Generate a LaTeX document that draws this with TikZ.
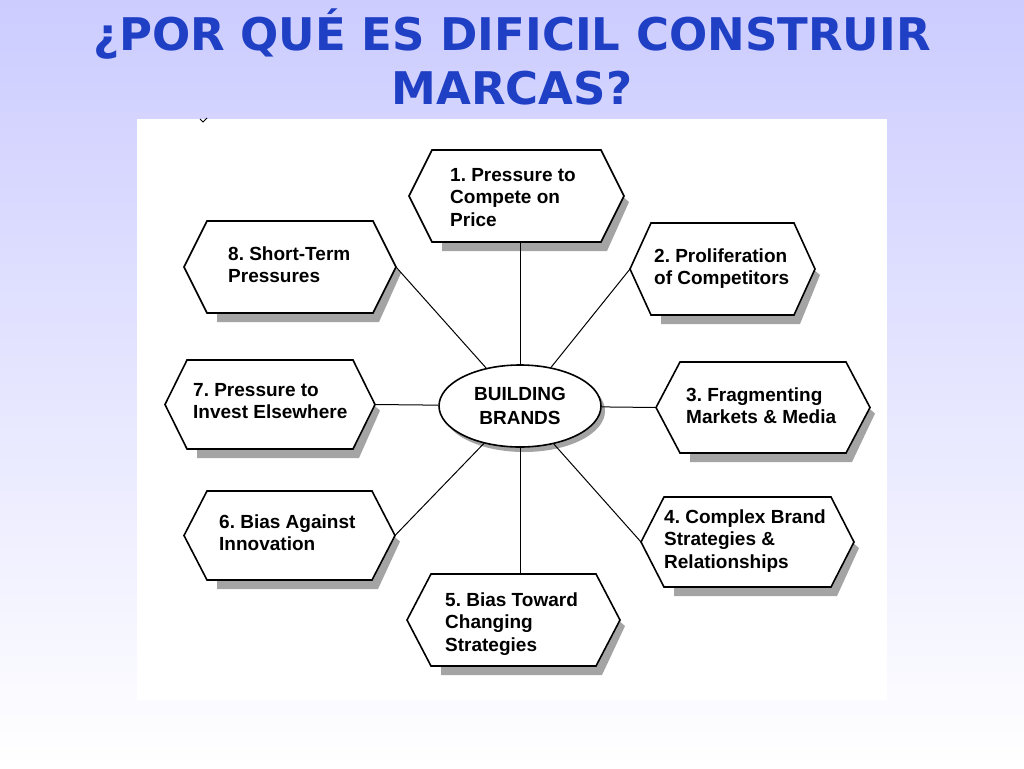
\documentclass[tikz,border=0pt]{standalone}
\usepackage{fontspec}
\setmainfont{Liberation Sans}
\newfontfamily\titlefont{DejaVu Sans}
\usetikzlibrary{shapes.geometric}
\frenchspacing
\definecolor{bgtop}{HTML}{CCCCFF}
\definecolor{titleblue}{HTML}{1F3FC4}
\definecolor{shadowgray}{HTML}{A4A4A4}
\tikzset{
  hexline/.style={draw=black, fill=white, line width=1.6pt, line join=miter},
  conn/.style={draw=black, line width=1pt},
  hextext/.style={anchor=base west, inner sep=0pt, align=left,
    font=\bfseries\fontsize{19}{22.5}\selectfont},
  titlestyle/.style={anchor=base, inner sep=0pt, align=center, text=titleblue,
    font=\titlefont\bfseries\fontsize{45}{54}\selectfont},
  brandstyle/.style={ellipse, draw=black, fill=white, line width=1.6pt,
    minimum width=162pt, minimum height=82pt, inner sep=0pt, align=center,
    font=\bfseries\fontsize{19}{24}\selectfont}
}
\newcommand\hexshape[6]{% name, xL, xR, yT, yB, inset
  \pgfmathsetmacro\hm{(#4+#5)/2}
  \coordinate (#1L) at (#2,\hm);
  \coordinate (#1R) at (#3,\hm);
  \coordinate (#1T) at ({(#2+#3)/2},#4);
  \coordinate (#1B) at ({(#2+#3)/2},#5);
  \fill[shadowgray] (#3-2,\hm) -- (#3+5,\hm+6) -- (#3-#6+6,#5+9) -- (#2+#6+10,#5+9) -- (#2+#6+10,#5-2) -- cycle;
  \path[hexline] (#1L) -- (#2+#6,#4) -- (#3-#6,#4) -- (#1R) -- (#3-#6,#5) -- (#2+#6,#5) -- cycle;
}
\begin{document}
\begin{tikzpicture}[x=1pt,y=-1pt]
\useasboundingbox (0,0) rectangle (1024,768);
\shade[top color=bgtop, bottom color=white] (0,0) rectangle (1024,768);
\fill[white] (137,119) rectangle (887,700);
\draw[line width=1pt] (200,119) -- (203,122) -- (207,118);

\node[titlestyle] (title) at (512,104) {¿POR QUÉ ES DIFICIL CONSTRUIR\\MARCAS?};

% hexagons
\hexshape{h1}{409}{624}{150}{242}{23}
\hexshape{h2}{630}{815}{223}{315}{21}
\hexshape{h3}{656}{870}{362}{453}{24}
\hexshape{h4}{641}{854}{497}{587}{23}
\hexshape{h5}{407}{620}{574}{666}{24}
\hexshape{h6}{184}{395}{491}{580}{23}
\hexshape{h7}{165}{375}{360}{449}{22}
\hexshape{h8}{184}{396}{221}{313}{23}

% centre
\fill[shadowgray] (524,411) ellipse [x radius=81, y radius=41];
\node[brandstyle] (bb) at (520,406) {BUILDING\\BRANDS};

% connectors
\draw[conn] (bb) -- (bb |- h1B);
\draw[conn] (bb) -- (h2L);
\draw[conn] (bb) -- (h3L);
\draw[conn] (bb) -- (h4L);
\draw[conn] (bb) -- (bb |- h5T);
\draw[conn] (bb) -- (h6R);
\draw[conn] (bb) -- (h7R);
\draw[conn] (bb) -- (h8R);

% texts (anchored at the baseline of the last line)
\node[hextext] (t1) at (450,226) {1. Pressure to\\Compete on\\Price};
\node[hextext] (t2) at (654,284.5) {2. Proliferation\\of Competitors};
\node[hextext] (t3) at (686,423.5) {3. Fragmenting\\Markets \& Media};
\node[hextext] (t4) at (664,568) {4. Complex Brand\\Strategies \&\\Relationships};
\node[hextext] (t5) at (445,651) {5. Bias Toward\\Changing\\Strategies};
\node[hextext] (t6) at (219,550.5) {6. Bias Against\\Innovation};
\node[hextext] (t7) at (193,418.5) {7. Pressure to\\Invest Elsewhere};
\node[hextext] (t8) at (228,282.5) {8. Short-Term\\Pressures};
\end{tikzpicture}
\end{document}
